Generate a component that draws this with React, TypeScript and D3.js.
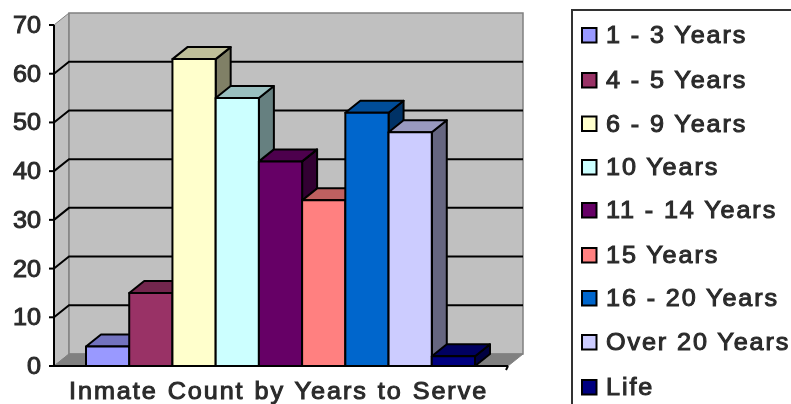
import React from "react";
import * as d3 from "d3";

const categories = ["1 - 3 Years", "4 - 5 Years", "6 - 9 Years", "10 Years", "11 - 14 Years", "15 Years", "16 - 20 Years", "Over 20 Years", "Life"];
const values = [4, 15, 63, 55, 42, 34, 52, 48, 2];
const colors = ["#9999ff", "#993366", "#ffffcc", "#ccffff", "#660066", "#ff8080", "#0066cc", "#ccccff", "#000080"];
const yTicks = [0, 10, 20, 30, 40, 50, 60, 70];
const legendY = [35, 80, 123.5, 167, 210, 255, 298, 342, 387];
const title = "Inmate Count by Years to Serve";

const FONT = "'Liberation Sans', Arial, sans-serif";
const dx = 15;
const dy = -12;
const stretch = 1.05;
const y = d3.scaleLinear().domain([0, 70]).range([366, 25]);
const x = d3.scaleBand().domain(categories).range([86, 475]).padding(0);
const xLeft = 54;
const xRight = 508;
const pts = (a: number[][]) => a.map((p) => p.join(",")).join(" ");
const shade = (c: string, k: number) => {
  const r = d3.rgb(c);
  return d3.rgb(r.r * k, r.g * k, r.b * k).formatHex();
};

function Label(props: { x: number; y: number; spacing?: number; word?: number; anchor?: string; children: React.ReactNode }) {
  return (
    <text
      transform={`translate(${props.x},${props.y}) scale(${stretch},1)`}
      fontSize={24}
      fontWeight={400}
      fill="#2a2a2a"
      stroke="#2a2a2a"
      strokeWidth={1}
      letterSpacing={props.spacing ?? 0}
      wordSpacing={props.word ?? 0}
      textAnchor={props.anchor ?? "start"}
    >
      {props.children}
    </text>
  );
}

export default function App() {
  const y0 = y(0);
  const y70 = y(70);
  return (
    <svg width={791} height={404} style={{ position: "fixed", left: 0, top: 0, background: "#fff" }} fontFamily={FONT}>
      <defs>
        <filter id="soft" x="-5%" y="-5%" width="110%" height="110%">
          <feGaussianBlur stdDeviation="0.6" />
        </filter>
      </defs>
      <g filter="url(#soft)">
        {/* walls */}
        <polygon points={pts([[xLeft, y70], [xLeft + dx, y70 + dy], [xLeft + dx, y0 + dy], [xLeft, y0]])} fill="#c0c0c0" stroke="#808080" strokeWidth={1} />
        <polygon points={pts([[xLeft + dx, y70 + dy], [xRight + dx, y70 + dy], [xRight + dx, y0 + dy], [xLeft + dx, y0 + dy]])} fill="#c0c0c0" stroke="#808080" strokeWidth={1.5} />
        <polygon points={pts([[xLeft, y0], [xLeft + dx, y0 + dy], [xRight + dx, y0 + dy], [xRight, y0]])} fill="#808080" stroke="#808080" />
        {/* gridlines */}
        {yTicks.slice(1, -1).map((t) => (
          <polyline key={t} stroke="#000" strokeWidth={2} fill="none" points={pts([[xLeft, y(t)], [xLeft + dx, y(t) + dy], [xRight + dx, y(t) + dy]])} />
        ))}
        {/* bars */}
        {categories.map((c, i) => {
          const x0 = x(c)!;
          const x1 = x0 + x.bandwidth();
          const top = y(values[i]);
          return (
            <g key={c} stroke="#000" strokeWidth={2} strokeLinejoin="round">
              <polygon points={pts([[x1, top], [x1 + dx, top + dy], [x1 + dx, y0 + dy], [x1, y0]])} fill={shade(colors[i], 0.5)} />
              <polygon points={pts([[x0, top], [x0 + dx, top + dy], [x1 + dx, top + dy], [x1, top]])} fill={shade(colors[i], 0.75)} />
              <rect x={x0} y={top} width={x.bandwidth()} height={y0 - top} fill={colors[i]} />
            </g>
          );
        })}
        {/* axes */}
        <line x1={xLeft} x2={xLeft} y1={y70} y2={y0} stroke="#000" strokeWidth={2} />
        <line x1={xLeft - 5} x2={xRight} y1={y0} y2={y0} stroke="#000" strokeWidth={2} />
        <line x1={xRight} x2={xRight - 2} y1={y0} y2={y0 + 4} stroke="#000" strokeWidth={2} />
        {yTicks.map((t) => (
          <g key={t}>
            <line x1={xLeft - 5} x2={xLeft} y1={y(t)} y2={y(t)} stroke="#000" strokeWidth={2} />
            <Label x={41} y={y(t) + 8} anchor="end">{t}</Label>
          </g>
        ))}
        <Label x={69} y={399} spacing={1.85} word={1}>{title}</Label>
        {/* legend */}
        <rect x={572} y={10} width={260} height={440} fill="#fff" stroke="#333" strokeWidth={2} />
        {categories.map((c, i) => (
          <g key={c}>
            <rect x={582} y={legendY[i] - 7} width={14.5} height={14.5} fill={colors[i]} stroke="#000" strokeWidth={2} />
            <Label x={606} y={legendY[i] + 8} spacing={1.8}>{c}</Label>
          </g>
        ))}
      </g>
    </svg>
  );
}
